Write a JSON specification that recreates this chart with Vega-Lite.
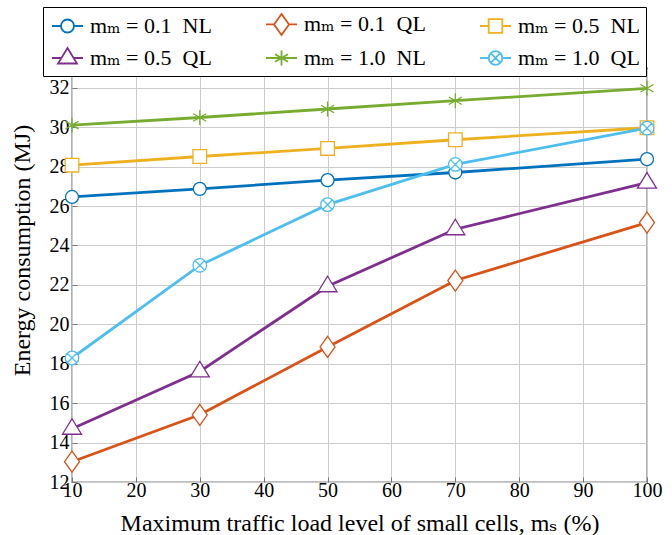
{
  "$schema": "https://vega.github.io/schema/vega-lite/v6.json",
  "width": 575,
  "height": 414,
  "autosize": {"type": "none"},
  "padding": {"left": 72, "top": 68, "right": 25, "bottom": 53},
  "background": "white",
  "config": {
    "font": "'Liberation Serif', 'DejaVu Serif', serif",
    "view": {"stroke": "black", "strokeWidth": 1.2},
    "axis": {
      "labelFont": "'Liberation Serif', 'DejaVu Serif', serif",
      "titleFont": "'Liberation Serif', 'DejaVu Serif', serif",
      "labelFontSize": 20,
      "titleFontSize": 24,
      "labelColor": "black",
      "titleColor": "black",
      "titleFontWeight": "normal",
      "gridColor": "#cccccc",
      "gridWidth": 1,
      "domain": false,
      "ticks": true,
      "tickColor": "#777777",
      "tickSize": -5,
      "labelFlush": false,
      "labelOverlap": false
    },
    "legend": {
      "orient": "none",
      "legendX": -29,
      "legendY": -61,
      "columns": 3,
      "direction": "horizontal",
      "labelFont": "'Liberation Serif', 'DejaVu Serif', serif",
      "labelFontSize": 22,
      "labelColor": "black",
      "labelLimit": 400,
      "symbolSize": 400,
      "symbolStrokeWidth": 1.8,
      "symbolOpacity": 1,
      "labelOffset": 19,
      "columnPadding": 50,
      "rowPadding": 5,
      "padding": 6,
      "gridAlign": "all",
      "strokeColor": "black",
      "fillColor": "white"
    }
  },
  "data": {
    "values": [
      {"s": "A", "x": 10, "y": 26.46}, {"s": "A", "x": 30, "y": 26.87}, {"s": "A", "x": 50, "y": 27.31}, {"s": "A", "x": 70, "y": 27.70}, {"s": "A", "x": 100, "y": 28.38},
      {"s": "B", "x": 10, "y": 13.03}, {"s": "B", "x": 30, "y": 15.41}, {"s": "B", "x": 50, "y": 18.85}, {"s": "B", "x": 70, "y": 22.22}, {"s": "B", "x": 100, "y": 25.16},
      {"s": "C", "x": 10, "y": 28.07}, {"s": "C", "x": 30, "y": 28.51}, {"s": "C", "x": 50, "y": 28.92}, {"s": "C", "x": 70, "y": 29.36}, {"s": "C", "x": 100, "y": 29.97},
      {"s": "D", "x": 10, "y": 14.70}, {"s": "D", "x": 30, "y": 17.61}, {"s": "D", "x": 50, "y": 21.93}, {"s": "D", "x": 70, "y": 24.82}, {"s": "D", "x": 100, "y": 27.19},
      {"s": "E", "x": 10, "y": 30.10}, {"s": "E", "x": 30, "y": 30.49}, {"s": "E", "x": 50, "y": 30.92}, {"s": "E", "x": 70, "y": 31.34}, {"s": "E", "x": 100, "y": 31.97},
      {"s": "F", "x": 10, "y": 18.29}, {"s": "F", "x": 30, "y": 22.99}, {"s": "F", "x": 50, "y": 26.07}, {"s": "F", "x": 70, "y": 28.11}, {"s": "F", "x": 100, "y": 29.95}
    ]
  },
  "encoding": {
    "x": {
      "field": "x",
      "type": "quantitative",
      "scale": {"domain": [10, 100], "nice": false, "zero": false},
      "axis": {
        "values": [10, 20, 30, 40, 50, 60, 70, 80, 90, 100],
        "title": "Maximum traffic load level of small cells, mₛ (%)",
        "labelPadding": 3,
        "titleY": 41,
        "titleBaseline": "middle"
      }
    },
    "y": {
      "field": "y",
      "type": "quantitative",
      "scale": {"domain": [12, 33], "nice": false, "zero": false},
      "axis": {
        "values": [12, 14, 16, 18, 20, 22, 24, 26, 28, 30, 32],
        "title": "Energy consumption (MJ)",
        "labelPadding": 8,
        "titleX": -50,
        "titleY": 182,
        "titleAngle": -90,
        "titleAlign": "center",
        "titleBaseline": "middle"
      }
    },
    "color": {
      "field": "s",
      "type": "nominal",
      "scale": {
        "domain": ["A", "B", "C", "D", "E", "F"],
        "range": ["#0072BD", "#D95319", "#EDB120", "#7E2F8E", "#77AC30", "#4DBEEE"]
      },
      "legend": {
        "title": null,
        "labelExpr": "{'A': 'mₘ = 0.1\u2002NL', 'B': 'mₘ = 0.1\u2002QL', 'C': 'mₘ = 0.5\u2002NL', 'D': 'mₘ = 0.5\u2002QL', 'E': 'mₘ = 1.0\u2002NL', 'F': 'mₘ = 1.0\u2002QL'}[datum.label]"
      }
    }
  },
  "layer": [
    {"mark": {"type": "line", "strokeWidth": 2.8}},
    {
      "mark": {"type": "point", "filled": false, "opacity": 0, "size": 400, "strokeWidth": 1.8},
      "encoding": {
        "shape": {
          "field": "s",
          "type": "nominal",
          "scale": {
            "domain": ["A", "B", "C", "D", "E", "F"],
            "range": [
              "M-0.8,0H0.1M1.4,0H2.3M1.4,0A0.65,0.65,0,1,1,0.1,0A0.65,0.65,0,1,1,1.4,0Z",
              "M-0.8,0H0M1.5,0H2.3M0.75,-1.05L1.5,0L0.75,1.05L0,0Z",
              "M-0.8,0H0.07M1.43,0H2.3M0.07,-0.68H1.43V0.68H0.07Z",
              "M-0.8,0H0.14M1.36,0H2.3M0.75,-1L1.7,0.55L-0.2,0.55Z",
              "M-0.8,0H2.3M0.75,-0.75V0.75M0.1,-0.375L1.4,0.375M0.1,0.375L1.4,-0.375",
              "M-0.8,0H0.07M1.43,0H2.3M1.43,0A0.68,0.68,0,1,1,0.07,0A0.68,0.68,0,1,1,1.43,0ZM0.27,-0.48L1.23,0.48M0.27,0.48L1.23,-0.48"
            ]
          },
          "legend": {
            "title": null,
            "labelExpr": "{'A': 'mₘ = 0.1\u2002NL', 'B': 'mₘ = 0.1\u2002QL', 'C': 'mₘ = 0.5\u2002NL', 'D': 'mₘ = 0.5\u2002QL', 'E': 'mₘ = 1.0\u2002NL', 'F': 'mₘ = 1.0\u2002QL'}[datum.label]"
          }
        }
      }
    },
    {
      "transform": [{"filter": "datum.s === 'A'"}],
      "mark": {"type": "point", "shape": "M0.65,0A0.65,0.65,0,1,1,-0.65,0A0.65,0.65,0,1,1,0.65,0Z", "filled": false, "fill": "white", "fillOpacity": 1, "opacity": 1, "size": 400, "strokeWidth": 1.3}
    },
    {
      "transform": [{"filter": "datum.s === 'B'"}],
      "mark": {"type": "point", "shape": "M0,-1.05L0.75,0L0,1.05L-0.75,0Z", "filled": false, "fill": "white", "fillOpacity": 1, "opacity": 1, "size": 400, "strokeWidth": 1.3}
    },
    {
      "transform": [{"filter": "datum.s === 'C'"}],
      "mark": {"type": "point", "shape": "M-0.68,-0.68H0.68V0.68H-0.68Z", "filled": false, "fill": "white", "fillOpacity": 1, "opacity": 1, "size": 400, "strokeWidth": 1.3}
    },
    {
      "transform": [{"filter": "datum.s === 'D'"}],
      "mark": {"type": "point", "shape": "M0,-1L0.95,0.55L-0.95,0.55Z", "filled": false, "fill": "white", "fillOpacity": 1, "opacity": 1, "size": 400, "strokeWidth": 1.3}
    },
    {
      "transform": [{"filter": "datum.s === 'E'"}],
      "mark": {"type": "point", "shape": "M0,-0.75L0,0.75M-0.65,-0.375L0.65,0.375M-0.65,0.375L0.65,-0.375", "filled": false, "fill": "white", "fillOpacity": 1, "opacity": 1, "size": 400, "strokeWidth": 1.3}
    },
    {
      "transform": [{"filter": "datum.s === 'F'"}],
      "mark": {"type": "point", "shape": "M0.68,0A0.68,0.68,0,1,1,-0.68,0A0.68,0.68,0,1,1,0.68,0ZM-0.48,-0.48L0.48,0.48M-0.48,0.48L0.48,-0.48", "filled": false, "fill": "white", "fillOpacity": 1, "opacity": 1, "size": 400, "strokeWidth": 1.3}
    }
  ]
}
